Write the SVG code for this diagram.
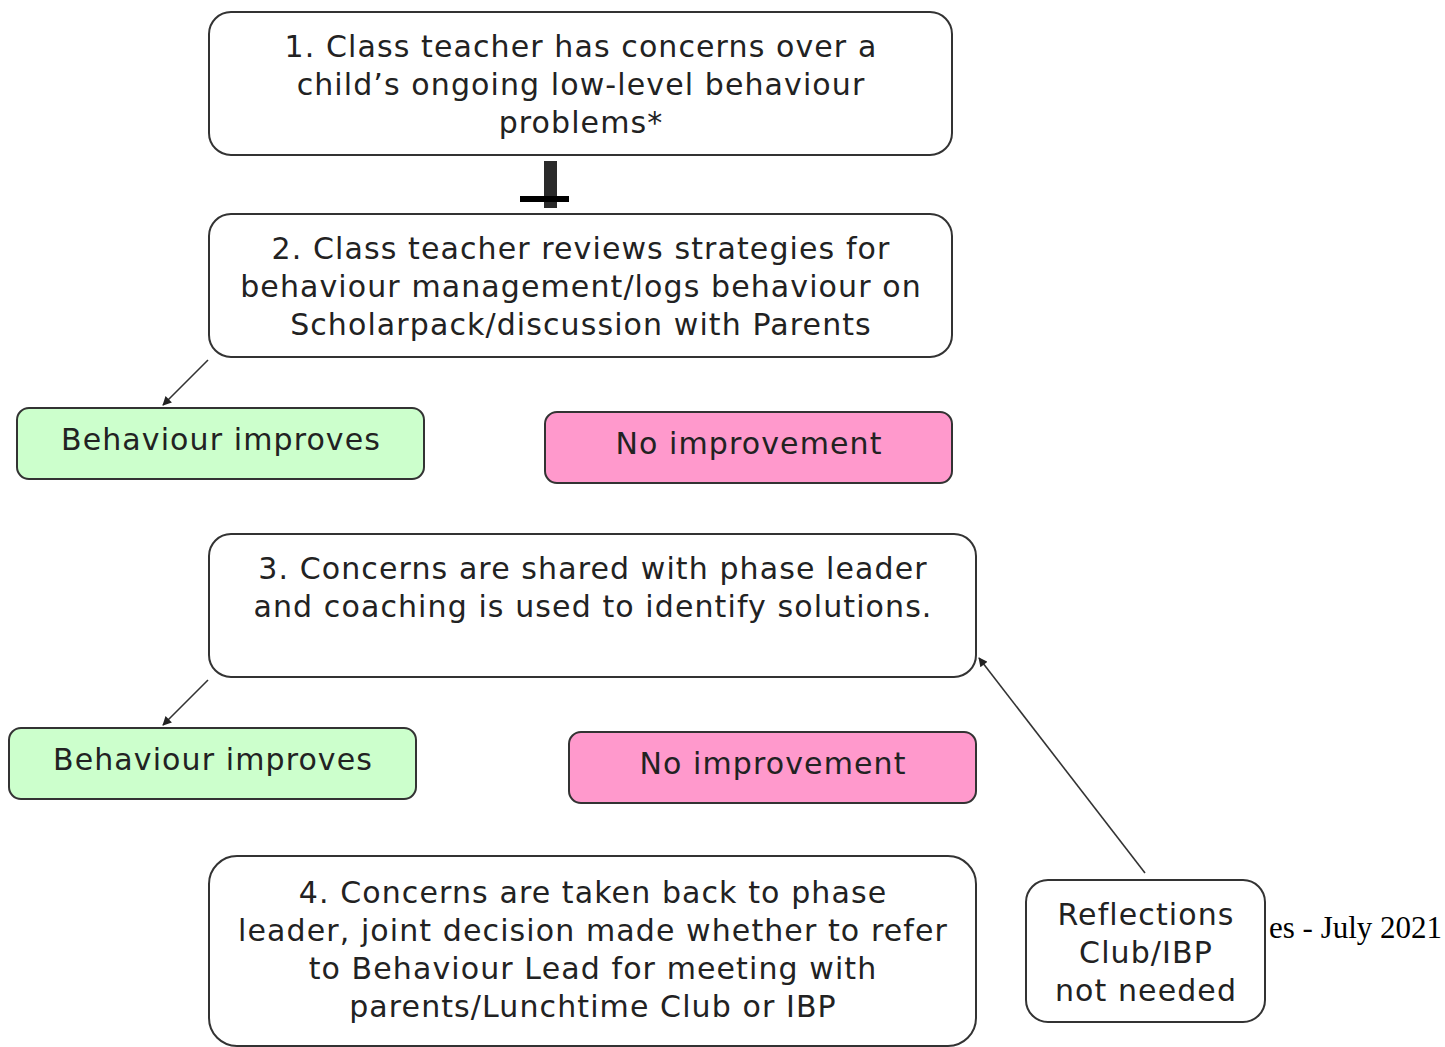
<svg xmlns="http://www.w3.org/2000/svg" width="1445" height="1047" viewBox="0 0 1445 1047">
  <style>
    .box { fill: #ffffff; stroke: #333333; stroke-width: 2; }
    .ok { fill: #ccffcc; stroke: #333333; stroke-width: 2; }
    .no { fill: #ff99cc; stroke: #333333; stroke-width: 2; }
    .t { font-family: "DejaVu Sans", Verdana, sans-serif; font-size: 30px; letter-spacing: 1.1px; fill: #222222; text-anchor: middle; }
    .link { stroke: #333333; stroke-width: 1.6; fill: none; marker-end: url(#arrow); }
    .note { font-family: "Liberation Serif", "Times New Roman", serif; font-size: 31px; fill: #000000; }
  </style>
  <defs>
    <marker id="arrow" viewBox="0 0 10 10" refX="9" refY="5" markerWidth="12" markerHeight="9" markerUnits="userSpaceOnUse" orient="auto">
      <path d="M0,0 L10,5 L0,10 z" fill="#222222"/>
    </marker>
  </defs>
  <rect width="1445" height="1047" fill="#ffffff"/>

  <text class="note" x="1269" y="938">es - July 2021</text>

  <g id="connectors">
    <!-- heavy stem between step 1 and step 2 -->
    <rect x="544" y="161" width="13" height="47" fill="#2a2a2a"/>
    <rect x="520" y="196" width="49" height="6" fill="#000000"/>
    <line class="link" x1="208" y1="360" x2="163" y2="405"/>
    <line class="link" x1="208" y1="680" x2="163" y2="725"/>
    <line class="link" x1="1145" y1="873" x2="979" y2="658"/>
  </g>

  <g id="step1">
    <rect class="box" x="209" y="12" width="743" height="143" rx="22"/>
    <text class="t" x="581" y="57">1. Class teacher has concerns over a</text>
    <text class="t" x="581" y="95">child’s ongoing low-level behaviour</text>
    <text class="t" x="581" y="133">problems*</text>
  </g>

  <g id="step2">
    <rect class="box" x="209" y="214" width="743" height="143" rx="22"/>
    <text class="t" x="581" y="259">2. Class teacher reviews strategies for</text>
    <text class="t" x="581" y="297">behaviour management/logs behaviour on</text>
    <text class="t" x="581" y="335">Scholarpack/discussion with Parents</text>
  </g>

  <g id="improves1">
    <rect class="ok" x="17" y="408" width="407" height="71" rx="12"/>
    <text class="t" x="221" y="450">Behaviour improves</text>
  </g>

  <g id="noimprove1">
    <rect class="no" x="545" y="412" width="407" height="71" rx="12"/>
    <text class="t" x="749" y="454">No improvement</text>
  </g>

  <g id="step3">
    <rect class="box" x="209" y="534" width="767" height="143" rx="22"/>
    <text class="t" x="593" y="579">3. Concerns are shared with phase leader</text>
    <text class="t" x="593" y="617">and coaching is used to identify solutions.</text>
  </g>

  <g id="improves2">
    <rect class="ok" x="9" y="728" width="407" height="71" rx="12"/>
    <text class="t" x="213" y="770">Behaviour improves</text>
  </g>

  <g id="noimprove2">
    <rect class="no" x="569" y="732" width="407" height="71" rx="12"/>
    <text class="t" x="773" y="774">No improvement</text>
  </g>

  <g id="step4">
    <rect class="box" x="209" y="856" width="767" height="190" rx="28"/>
    <text class="t" x="593" y="903">4. Concerns are taken back to phase</text>
    <text class="t" x="593" y="941">leader, joint decision made whether to refer</text>
    <text class="t" x="593" y="979">to Behaviour Lead for meeting with</text>
    <text class="t" x="593" y="1017">parents/Lunchtime Club or IBP</text>
  </g>

  <g id="reflections">
    <rect class="box" x="1026" y="880" width="239" height="142" rx="22"/>
    <text class="t" x="1146" y="925">Reflections</text>
    <text class="t" x="1146" y="963">Club/IBP</text>
    <text class="t" x="1146" y="1001">not needed</text>
  </g>
</svg>
